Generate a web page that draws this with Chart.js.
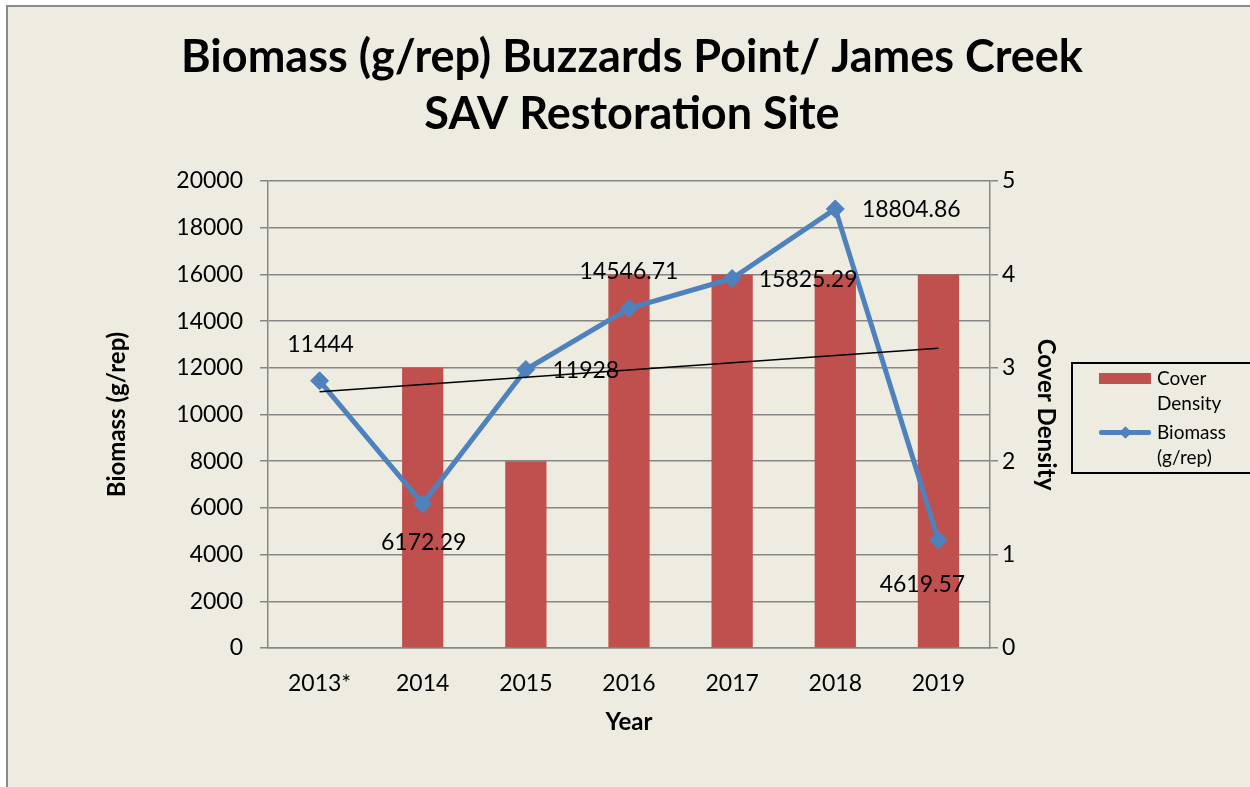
<!DOCTYPE html>
<html>
<head>
<meta charset="utf-8">
<title>Biomass (g/rep) Buzzards Point/ James Creek</title>
<script src="https://cdn.jsdelivr.net/npm/chart.js@4.4.1/dist/chart.umd.min.js"></script>
<style>
    html, body { margin: 0; padding: 0; background: #ffffff; }
    body { width: 1250px; height: 787px; overflow: hidden; position: relative; font-family: 'Lato', sans-serif; }
    #frame { position: absolute; left: 6px; top: 5px; width: 1300px; height: 840px; background: #EEECE1; border: 2px solid #8a8a8a; }
    #chart { position: absolute; left: 0; top: 0; }
    #legend { position: absolute; left: 1071px; top: 362px; width: 220px; height: 108px; border: 2px solid #000; }
    #legend .row { position: absolute; left: 0; width: 220px; height: 50px; }
    #legend .sym { position: absolute; left: 26px; width: 52px; }
    #legend .txt { position: absolute; left: 84px; width: 80px; font-size: 19px; line-height: 25px; color: #000; }
    #legend .diamond { position: absolute; width: 9px; height: 9px; transform: rotate(45deg); }
</style>
</head>
<body>
<div id="frame"></div>
<canvas id="chart" width="1250" height="787"></canvas>
<div id="legend"></div>
<script>
// 차트 데이터
const years = ['2013*', '2014', '2015', '2016', '2017', '2018', '2019'];
const coverDensity = [0, 3, 2, 4, 4, 4, 4];
const biomass = [11444, 6172.29, 11928, 14546.71, 15825.29, 18804.86, 4619.57];
// 선형 추세선 (양 끝점만)
const biomassTrend = [10975, null, null, null, null, null, 12837];
const titleLines = ['Biomass (g/rep) Buzzards Point/ James Creek', 'SAV Restoration Site'];

// 데이터 레이블 위치 (점 기준 dx, dy)
const labelOffsets = [[1, -36], [1, 39], [60, 1.5], [0, -37], [76, 1.5], [76, 1], [-16, 44]];

const FONT = 'Lato';
const GRID = '#868686';
const BAR_COLOR = '#C0504D';
const LINE_COLOR = '#4F81BD';

/**
 * 제목 그리기
 */
const titlePlugin = {
    id: 'titleText',
    afterDraw(chart) {
        const ctx = chart.ctx;
        ctx.save();
        ctx.font = `bold 45px ${FONT}`;
        ctx.fillStyle = '#000';
        ctx.textAlign = 'center';
        ctx.textBaseline = 'alphabetic';
        titleLines.forEach((t, i) => ctx.fillText(t, 632, 72 + i * 57));
        ctx.restore();
    }
};

/**
 * 바이오매스 값 레이블
 */
const labelPlugin = {
    id: 'pointLabels',
    afterDatasetsDraw(chart) {
        const meta = chart.getDatasetMeta(1);
        const ctx = chart.ctx;
        ctx.save();
        ctx.font = `23px ${FONT}`;
        ctx.fillStyle = '#000';
        ctx.textAlign = 'center';
        ctx.textBaseline = 'middle';
        meta.data.forEach((pt, i) => {
            const [dx, dy] = labelOffsets[i];
            ctx.fillText(String(biomass[i]), pt.x + dx, pt.y + dy);
        });
        ctx.restore();
    }
};

const tickFont = { family: FONT, size: 23 };
const titleFont = { family: FONT, size: 24, weight: 'bold' };

const chart = new Chart(document.getElementById('chart'), {
    type: 'bar',
    data: {
        labels: years,
        datasets: [
            {
                type: 'line',
                label: 'Linear (Biomass (g/rep))',
                data: biomassTrend,
                yAxisID: 'y',
                borderColor: '#000',
                borderWidth: 1.5,
                pointRadius: 0,
                spanGaps: true,
                order: 0
            },
            {
                type: 'line',
                label: 'Biomass (g/rep)',
                data: biomass,
                yAxisID: 'y',
                borderColor: LINE_COLOR,
                backgroundColor: LINE_COLOR,
                borderWidth: 5,
                borderJoinStyle: 'round',
                pointStyle: 'rectRot',
                pointRadius: 9,
                pointBorderWidth: 1,
                pointBorderColor: LINE_COLOR,
                order: 1
            },
            {
                type: 'bar',
                label: 'Cover Density',
                data: coverDensity,
                yAxisID: 'y1',
                backgroundColor: BAR_COLOR,
                categoryPercentage: 0.8,
                barPercentage: 0.5,
                order: 2
            }
        ]
    },
    options: {
        responsive: false,
        animation: false,
        devicePixelRatio: 1,
        layout: { padding: { top: 181, left: 0, right: 0, bottom: 0 } },
        plugins: {
            legend: { display: false },
            tooltip: { enabled: false }
        },
        scales: {
            x: {
                grid: { display: false },
                border: { color: GRID, width: 1.5 },
                ticks: { color: '#000', font: tickFont, padding: 14, maxRotation: 0 },
                title: { display: true, text: 'Year', color: '#000', font: titleFont, padding: { top: 0, bottom: 50 } },
                afterFit(s) { s.height = 139; }
            },
            y: {
                position: 'left',
                min: 0,
                max: 20000,
                ticks: { stepSize: 2000, color: '#000', font: tickFont, padding: 17, callback: v => String(v) },
                grid: { color: GRID, lineWidth: 1.5, tickLength: 8 },
                border: { color: GRID, width: 1.5 },
                title: { display: true, text: 'Biomass (g/rep)', color: '#000', font: titleFont, padding: { top: 103, bottom: 0 } },
                afterFit(s) { s.width = 268; }
            },
            y1: {
                position: 'right',
                min: 0,
                max: 5,
                ticks: { stepSize: 1, color: '#000', font: tickFont, padding: 4 },
                grid: { drawOnChartArea: false, color: GRID, lineWidth: 1.5, tickLength: 8 },
                border: { color: GRID, width: 1.5 },
                title: { display: true, text: 'Cover Density', color: '#000', font: titleFont, padding: { top: 190, bottom: 0 } },
                afterFit(s) { s.width = 260; }
            }
        }
    },
    plugins: [titlePlugin, labelPlugin]
});

/**
 * 범례 (Cover Density, Biomass) 만들기
 */
function buildLegend() {
    const legend = document.getElementById('legend');
    const bars = chart.data.datasets[2];
    const line = chart.data.datasets[1];

    const row1 = document.createElement('div');
    row1.className = 'row';
    row1.style.top = '1px';
    row1.innerHTML = `<div class="sym" style="top:8px;height:11px;background:${bars.backgroundColor}"></div>
        <div class="txt" style="top:0">${bars.label}</div>`;

    const row2 = document.createElement('div');
    row2.className = 'row';
    row2.style.top = '55px';
    row2.innerHTML = `<div class="sym" style="top:11px;height:5px;border-radius:2px;background:${line.borderColor}"></div>
        <div class="diamond" style="left:48px;top:9px;background:${line.borderColor}"></div>
        <div class="txt" style="top:0">${line.label}</div>`;

    legend.appendChild(row1);
    legend.appendChild(row2);
}

buildLegend();
</script>
</body>
</html>
